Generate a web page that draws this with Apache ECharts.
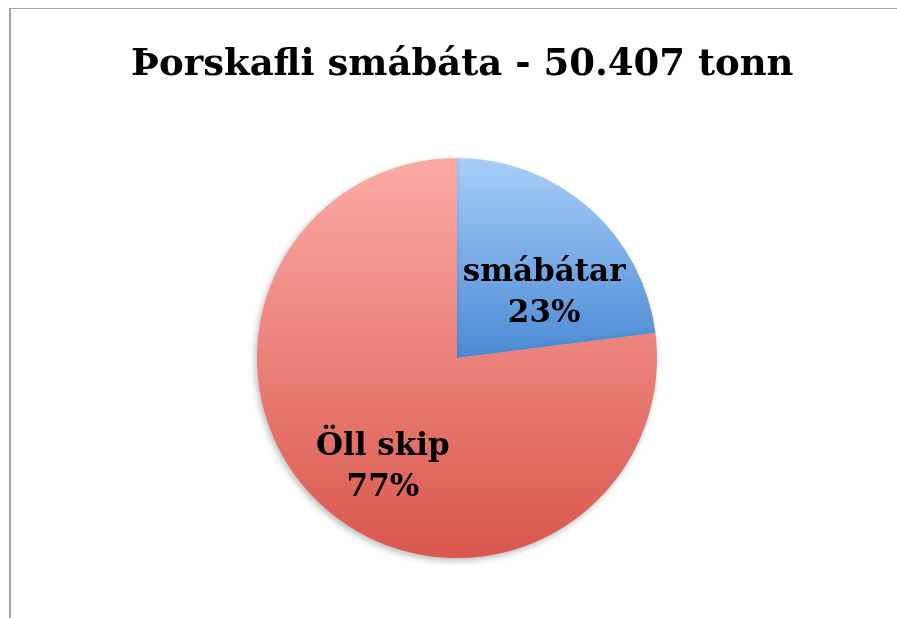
<!DOCTYPE html>
<html>
<head>
<meta charset="utf-8">
<script src="https://cdn.jsdelivr.net/npm/echarts@6/dist/echarts.min.js"></script>
<style>
  html, body { margin: 0; padding: 0; background: #fff; overflow: hidden; }
  #chart { position: absolute; left: 0; top: 0; width: 897px; height: 618px; }
  #frame { position: absolute; left: 9px; top: 8px; width: 1000px; height: 1000px;
           border-left: 2px solid #a3a3a3; border-top: 1px solid #a3a3a3; pointer-events: none; }
</style>
</head>
<body>
<div id="chart"></div>
<div id="frame"></div>
<script>
const titleText = 'Þorskafli smábáta - 50.407 tonn';
const categories = ['smábátar', 'Öll skip'];
const values = [23, 77];

const FONT = '"DejaVu Serif", serif';

const gradients = [
  ['#a9cdf9', '#4a8ad4'],
  ['#fcaaa6', '#d9574c']
];
const labelOffsets = [[19, 13], [-6, 32]];

const myChart = echarts.init(document.getElementById('chart'));

myChart.setOption({
  backgroundColor: '#fff',
  animation: false,
  title: {
    text: titleText,
    left: 126,
    top: 42,
    textStyle: {
      fontFamily: FONT,
      fontWeight: 'bold',
      fontSize: 37,
      color: '#000'
    }
  },
  series: [
    {
      type: 'pie',
      center: [457, 358],
      radius: [0, 200],
      startAngle: 90,
      clockwise: true,
      label: {
        show: true,
        position: 'inner',
        formatter: '{b}\n{d}%',
        fontFamily: FONT,
        fontWeight: 'bold',
        fontSize: 31,
        lineHeight: 41,
        color: '#000'
      },
      labelLine: { show: false },
      itemStyle: {
        borderWidth: 0,
        shadowBlur: 6,
        shadowColor: 'rgba(0,0,0,0.25)',
        shadowOffsetX: -2,
        shadowOffsetY: 3
      },
      data: categories.map((name, i) => ({
        name,
        value: values[i],
        label: { offset: labelOffsets[i] },
        itemStyle: {
          color: new echarts.graphic.LinearGradient(0, 0, 0, 1, [
            { offset: 0, color: gradients[i][0] },
            { offset: 1, color: gradients[i][1] }
          ])
        }
      }))
    }
  ]
});
</script>
</body>
</html>
